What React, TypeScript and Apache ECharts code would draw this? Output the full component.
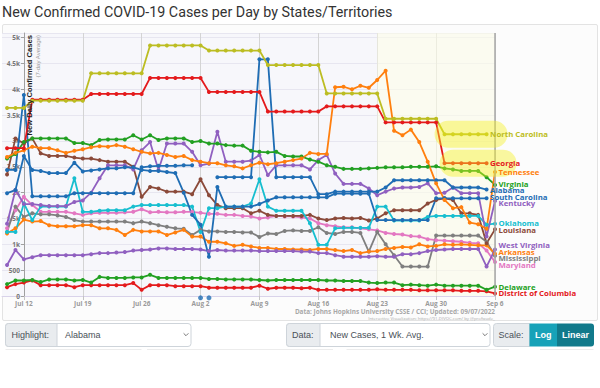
import React, { useEffect, useRef } from "react";
import * as echarts from "echarts";

// Days relative to Jul 12 (0 = Jul 12, 56 = Sep 6)
const DAY = [
  -2, -1, 0, 1, 2, 3, 4, 5, 6, 7, 8, 9, 10, 11, 12, 13, 14, 15, 16, 17, 18, 19, 20,
  21, 22, 23, 24, 25, 26, 27, 28, 29, 30, 31, 32, 33, 34, 35, 36, 37, 38, 39, 40,
  41, 42, 43, 44, 45, 46, 47, 48, 49, 50, 51, 52, 53, 54, 55, 56,
];
const X_TICK_DAYS = [0, 7, 14, 21, 28, 35, 42, 49, 56];
const X_TICK_LABELS = ["Jul 12", "Jul 19", "Jul 26", "Aug 2", "Aug 9", "Aug 16", "Aug 23", "Aug 30", "Sep 6"];
const REVIEW_START = 42; // Aug 23

const northCarolina = [
  3640, 3640, 3640,
  3780, 3780, 3780, 3780, 3780, 3780, 3780,
  4310, 4310, 4310, 4310, 4310, 4310, 4310,
  4850, 4850, 4850, 4850, 4850, 4850, 4850,
  4750, 4750, 4750, 4750, 4750, 4750, 4750,
  4470, 4470, 4470, 4470, 4470, 4470, 4470,
  3920, 3920, 3920, 3920, 3920, 3920, 3920,
  3430, 3430, 3430, 3430, 3430, 3430, 3430,
  3130, 3130, 3130, 3130, 3130, 3130, null,
];
const georgia = [
  2860, 2860, 2860,
  3800, 3800, 3800, 3800, 3800, 3800, 3800,
  3910, 3910, 3910, 3910, 3910, 3910, 3910,
  4220, 4220, 4220, 4220, 4220, 4220, 4220,
  3950, 3950, 3950, 3950, 3950, 3950, 3950,
  3570, 3570, 3570, 3570, 3570, 3570, 3570,
  3670, 3670, 3670, 3670, 3670, 3670, 3670,
  3360, 3360, 3360, 3360, 3360, 3360, 3360,
  2570, 2570, 2570, 2570, 2570, 2570, null,
];
const tennessee = [
  2690, 2770, 2820,
  2890, 2860, 2860, 2820, 2770, 2810, 2840,
  2880, 2900, 2890, 2920, 2890, 2840, 2790,
  2760, 2770, 2730, 2690, 2710, 2630, 2600,
  2570, 2570, 2530, 2510, 2470, 2530, 2580,
  2550, 2570, 2600, 2630, 2660, 2770, 2750,
  2750, 4040, 4050, 4000, 4070, 4030, 4180,
  4360, 3200, 3110, 3220, 2980, 2600, 2180,
  1860, 1700, 1720, 1420, 1390, 1300, 2400,
];
const virginia = [
  2660, 2750, 2980,
  3050, 3050, 3050, 3050, 3050, 2960, 2960,
  2920, 3020, 3030, 3030, 3030, 3110, 3030,
  3110, 3020, 3050, 3050, 3050, 2980, 3000,
  2950, 2950, 2920, 2910, 2910, 2810, 2790,
  2780, 2790, 2710, 2700, 2700, 2640, 2600,
  2530, 2500, 2460, 2460, 2460, 2470, 2480,
  2490, 2490, 2490, 2500, 2500, 2500, 2510,
  2470, 2450, 2420, 2420, 2420, 2300, 2150,
];
const alabama = [
  2440, 2440, 3890,
  1930, 1930, 1930, 1930, 1930, 1990, 1990,
  1990, 1990, 1990, 1990, 1990, 1990, 2490,
  2510, 2520, 2520, 2520, 2530, 2530, null,
  null, 2300, 2300, 2300, 2300, 2300, 4580,
  4580, 2300, 2300, 2300, 2300, 2300, 1970,
  1970, 2020, 2020, 2020, 2020, 2020, 2020,
  2100, 2240, 2240, 2240, 2240, 2240, 2240,
  2240, 2100, 2100, 2100, 2100, 2060, null,
];
const alabamaNegativeDays = [21, 22];
const alabamaNegativeValues = [-35, -35];
const southCarolina = [
  1990, 2050, 2710,
  2440, 2420, 2380, 2380, 2380, 2580, 2410,
  2430, 2450, 2470, 2470, 2490, 2490, 2440,
  2420, 2420, 2400, 2380, 2000, 1570, 1380,
  760, 2110, 1730, 1730, 1730, 1730, 1780,
  1850, 1910, 1910, 1910, 1910, 1910, 1910,
  1910, 1980, 1980, 1980, 1980, 1980, 1470,
  1470, 1470, 1470, 1470, 1470, 1470, 1890,
  1890, 1890, 1890, 1890, 1890, 1890, null,
];
const kentucky = [
  1400, 2050, 1780,
  1780, 1760, 1740, 1740, 1740, 1820, 1850,
  2000, 2280, 2530, 2530, 2530, 2450, 2820,
  2980, 2440, 2950, 2950, 2950, 2790, 2530,
  2560, 3180, 2600, 2600, 2600, 2620, 2730,
  2340, 2530, 2530, 2530, 2530, 2450, 2630,
  2730, 2370, 2170, 2170, 2170, 2080, 1950,
  2020, 2080, 2100, 2100, 2110, 2180, 1990,
  2000, 2100, 1990, 1990, 1990, 1150, 1840,
];
const oklahoma = [
  1240, 1240, 1790,
  1470, 1730, 1730, 1730, 1730, 2280, 1630,
  1630, 1650, 1660, 1660, 1660, 1730, 1760,
  1760, 1760, 1760, 1760, 1760, 1730, 1240,
  1700, 1700, 1730, 1730, 1730, 1790, 2260,
  1730, 1650, 1650, 1650, 1650, 1410, 990,
  990, 1310, 1320, 1320, 1320, 1320, 1730,
  1730, 1460, 1460, 1460, 1460, 1530, 1550,
  1550, 1550, 1550, 1550, 1550, 1380, 1400,
];
const louisiana = [
  2350, 3050, 2950,
  3050, 2760, 2710, 2710, 2710, 2680, 2660,
  2660, 2630, 2600, 2600, 2600, 2500, 1920,
  2110, 2080, 2020, 2020, 2020, 1970, 2260,
  1950, 1760, 1700, 1700, 1700, 1600, 1650,
  1570, 1550, 1550, 1550, 1550, 1570, 1500,
  1470, 1500, 1510, 1500, 1510, 1460, 1500,
  1600, 1660, 1660, 1660, 1660, 1790, 1860,
  1890, 1860, 1600, 1600, 1570, 1020, 1290,
];
const maryland = [
  1310, 1660, 1920,
  1760, 1630, 1630, 1630, 1630, 1600, 1570,
  1600, 1610, 1610, 1610, 1620, 1630, 1680,
  1620, 1630, 1620, 1620, 1630, 1630, 1610,
  1590, 1590, 1570, 1570, 1550, 1540, 1500,
  1520, 1550, 1540, 1540, 1520, 1500, 1410,
  1370, 1350, 1330, 1330, 1310, 1290, 1270,
  1220, 1200, 1190, 1160, 1150, 1100, 1080,
  1070, 1060, 1050, 1030, 1020, 880, 660,
];
const mississippi = [
  1240, 1730, 1530,
  1600, 1580, 1580, 1560, 1530, 1470, 1440,
  1440, 1440, 1440, 1440, 1440, 1410, 1440,
  1410, 1370, 1340, 1310, 1300, 1180, 1280,
  1250, 1250, 1240, 1240, 1230, 1230, 1140,
  1210, 1200, 1260, 1270, 1260, 1260, 1330,
  1220, 1200, 1240, 1240, 1220, 860, 1240,
  1000, 790, 570, 570, 570, 570, 1170,
  1170, 1170, 1170, 1170, 1170, 1050, 780,
];
const arkansas = [
  1210, 1310, 1480,
  1440, 1450, 1370, 1350, 1350, 1350, 1370,
  1370, 1310, 1310, 1280, 1180, 1280, 1250,
  1250, 1250, 1180, 1230, 1280, 1150, 1150,
  1050, 1050, 1020, 970, 990, 960, 930,
  930, 910, 910, 900, 900, 890, 910,
  910, 890, 870, 890, 830, 860, 870,
  910, 930, 950, 940, 1000, 960, 970,
  1000, 990, 1000, 990, 980, 980, 820,
];
const westVirginia = [
  600, 890, 710,
  750, 790, 790, 790, 790, 790, 790,
  810, 830, 830, 840, 850, 880, 890,
  900, 920, 920, 910, 910, 910, 900,
  870, 890, 880, 880, 880, 880, 870,
  870, 870, 870, 870, 860, 860, 830,
  830, 790, 760, 760, 760, 760, 770,
  760, 760, 810, 810, 830, 870, 890,
  900, 910, 910, 910, 910, 570, 900,
];
const delaware = [
  230, 300, 300,
  310, 270, 320, 320, 320, 300, 310,
  260, 370, 350, 350, 350, 360, 360,
  410, 350, 350, 350, 350, 350, 350,
  330, 330, 320, 320, 320, 320, 310,
  300, 310, 310, 310, 310, 310, 310,
  300, 300, 290, 290, 290, 260, 250,
  260, 260, 210, 220, 210, 200, 220,
  200, 200, 200, 200, 200, 120, 180,
];
const districtOfColumbia = [
  170, 230, 260,
  300, 210, 210, 210, 210, 170, 210,
  210, 210, 210, 210, 210, 250, 120,
  210, 210, 210, 190, 190, 190, 190,
  160, 160, 160, 160, 160, 160, 200,
  140, 160, 160, 160, 150, 160, 120,
  120, 120, 120, 120, 120, 120, 130,
  120, 120, 120, 120, 110, 110, 110,
  110, 110, 100, 100, 100, 90, 50,
];

const BLUE = "#1f6db4";
const ORANGE = "#ff7f0e";
const GREEN = "#22a022";
const RED = "#e41a1c";
const PURPLE = "#9060c0";
const BROWN = "#8b4a3a";
const PINK = "#e377c2";
const GRAY = "#7f7f7f";
const OLIVE = "#bcbd22";
const CYAN = "#17becf";

const STATES = [
  { name: "District of Columbia", color: RED, values: districtOfColumbia },
  { name: "Delaware", color: GREEN, values: delaware },
  { name: "Maryland", color: PINK, values: maryland },
  { name: "Mississippi", color: GRAY, values: mississippi },
  { name: "Arkansas", color: ORANGE, values: arkansas },
  { name: "West Virginia", color: PURPLE, values: westVirginia },
  { name: "Louisiana", color: BROWN, values: louisiana },
  { name: "Oklahoma", color: CYAN, values: oklahoma },
  { name: "Kentucky", color: PURPLE, values: kentucky },
  { name: "South Carolina", color: BLUE, values: southCarolina },
  { name: "Alabama", color: BLUE, values: alabama },
  { name: "Virginia", color: GREEN, values: virginia },
  { name: "Tennessee", color: ORANGE, values: tennessee },
  { name: "Georgia", color: RED, values: georgia },
  { name: "North Carolina", color: OLIVE, values: northCarolina },
];
const HIGHLIGHTED = ["North Carolina", "Georgia"];

const FONT = '"Open Sans", "Noto Sans", sans-serif';
const UI_FONT = '"Liberation Sans", "Noto Sans", sans-serif';

export default function App() {
  const ref = useRef<HTMLDivElement>(null);

  useEffect(() => {
    const el = ref.current;
    if (!el) return;
    const chart = echarts.init(el, undefined, { renderer: "svg", width: 600, height: 388 });

    const gridLeft = 2;
    const yAxisX = 24;
    const series: any[] = STATES.map((s) => ({
      name: s.name,
      type: "line",
      z: 3,
      silent: true,
      data: DAY.map((d, i) => [d, s.values[i] == null ? "-" : s.values[i]]),
      symbol: "circle",
      symbolSize: 4,
      showSymbol: true,
      connectNulls: false,
      clip: true,
      lineStyle: { width: 1.8, color: s.color },
      itemStyle: { color: s.color },
    }));
    series.push({
      name: "Alabama gap",
      type: "scatter",
      z: 3,
      silent: true,
      clip: false,
      symbolSize: 5,
      itemStyle: { color: BLUE },
      data: alabamaNegativeDays.map((d, i) => [d, alabamaNegativeValues[i]]),
    });
    series.push({
      type: "line",
      z: 1,
      silent: true,
      data: [],
      markArea: {
        silent: true,
        itemStyle: { color: "rgba(255,255,232,0.55)" },
        data: [[{ xAxis: REVIEW_START }, { xAxis: 56 }]],
      },
      markLine: {
        silent: true,
        symbol: "none",
        label: { show: false },
        lineStyle: { color: "#a9a9a9", width: 1.5, type: "solid" },
        data: [{ xAxis: 56 }],
      },
    });

    const option: any = {
      animation: false,
      backgroundColor: "transparent",
      grid: {
        left: gridLeft,
        right: 105,
        top: 33,
        bottom: 92,
        show: true,
        backgroundColor: "#f7f7fb",
        borderWidth: 0,
        containLabel: false,
        outerBoundsMode: "none",
      },
      xAxis: {
        type: "value",
        min: -2.6,
        max: 56,
        axisLine: { show: true, onZero: false, lineStyle: { color: "#d9d3ea", width: 1 } },
        axisTick: { show: true, length: 4, customValues: X_TICK_DAYS, lineStyle: { color: "#c4c4c4" } },
        axisLabel: {
          fontSize: 6.5,
          fontWeight: "bold",
          color: "#9a9a9a",
          fontFamily: FONT,
          margin: 3.5,
          customValues: X_TICK_DAYS,
          formatter: (v: number) => X_TICK_LABELS[X_TICK_DAYS.indexOf(Math.round(v))] ?? "",
        },
        splitLine: { show: true, lineStyle: { color: "#d4d4d4", width: 1 } },
      },
      yAxis: {
        type: "value",
        min: 0,
        max: 5090,
        interval: 500,
        offset: -(yAxisX - gridLeft),
        axisLine: { show: true, lineStyle: { color: "#a0a0a0", width: 1 } },
        axisTick: { show: true, length: 3, lineStyle: { color: "#a0a0a0" } },
        axisLabel: {
          fontSize: 6.5,
          fontWeight: "bold",
          color: "#777",
          fontFamily: FONT,
          margin: 4,
          showMaxLabel: false,
          formatter: (v: number) => (v % 500 !== 0 ? "" : v >= 1000 ? `${v / 1000}k` : `${v}`),
        },
        splitLine: { show: true, lineStyle: { color: "#e7e6f0", width: 1 } },
      },
      series,
    };
    chart.setOption(option);

    // End labels, placed from each series' last value, spread apart to avoid overlaps
    const items = STATES.map((s) => {
      let li = s.values.length - 1;
      while (li >= 0 && s.values[li] == null) li--;
      const p = chart.convertToPixel({ gridIndex: 0 }, [DAY[li], s.values[li] as number]) as number[];
      return { s, x: p[0], y: p[1], ly: p[1] };
    }).sort((a, b) => a.y - b.y);
    const GAP = 6.5;
    for (let it = 0; it < 300; it++) {
      let moved = false;
      for (let i = 1; i < items.length; i++) {
        const diff = items[i].ly - items[i - 1].ly;
        if (diff < GAP - 0.01) {
          const sh = (GAP - diff) / 2;
          items[i].ly += sh;
          items[i - 1].ly -= sh;
          moved = true;
        }
      }
      if (!moved) break;
    }

    const txt = (x: number, y: number, text: string, o: any = {}) => ({
      type: "text",
      x,
      y,
      z: 100,
      silent: true,
      rotation: o.rotation ?? 0,
      style: {
        text,
        fill: o.fill ?? "#495057",
        fontSize: o.fontSize ?? 9,
        fontWeight: o.fontWeight ?? "normal",
        fontFamily: o.fontFamily ?? UI_FONT,
        textAlign: o.align ?? "left",
        align: o.align ?? "left",
        textVerticalAlign: "middle",
        verticalAlign: "middle",
        lineHeight: o.lineHeight,
      },
    });
    const rect = (x: number, y: number, w: number, h: number, fill: string, stroke: string | null, r: any = 0) => ({
      type: "rect",
      z: 90,
      silent: true,
      shape: { x, y, width: w, height: h, r },
      style: { fill, stroke: stroke ?? "none", lineWidth: 1 },
    });
    const chevron = (cx: number, cy: number) => ({
      type: "polyline",
      z: 100,
      silent: true,
      shape: { points: [[cx - 2.4, cy - 1.2], [cx, cy + 1.2], [cx + 2.4, cy - 1.2]] },
      style: { stroke: "#555", lineWidth: 0.8, fill: "none" },
    });

    const graphic: any[] = [];
    graphic.push(txt(2, 12, "New Confirmed COVID-19 Cases per Day by States/Territories", {
      fontSize: 14.3, fill: "#333", fontFamily: 'Roboto, "Noto Sans", sans-serif',
    }));
    graphic.push(txt(29.5, 35, "New Daily Confirmed Cases", {
      rotation: Math.PI / 2, align: "right", fontSize: 7.6, fontWeight: "bold", fill: "#222", fontFamily: UI_FONT,
    }));
    graphic.push(txt(37.6, 35, "(7-day Average)", {
      rotation: Math.PI / 2, align: "right", fontSize: 6, fill: "#999", fontFamily: UI_FONT,
    }));

    items.forEach((it) => {
      if (it.s.name === HIGHLIGHTED[0]) {
        graphic.push({ type: "rect", z: 95, silent: true, shape: { x: it.x - 52, y: it.ly - 13.5, width: 73, height: 27, r: 13.5 }, style: { fill: "rgba(245,240,30,0.42)" } });
      }
      if (it.s.name === HIGHLIGHTED[1]) {
        graphic.push({ type: "rect", z: 95, silent: true, shape: { x: it.x - 47, y: it.ly - 13.5, width: 77, height: 27, r: 13.5 }, style: { fill: "rgba(245,240,30,0.42)" } });
      }
    });
    items.forEach((it) => {
      graphic.push(txt(it.x + 3.5, it.ly, it.s.name, {
        fill: it.s.color, fontSize: 7.8, fontWeight: "bold", fontFamily: FONT, lineHeight: 7,
      }));
    });
    graphic.push(txt(495, 311, "Data: Johns Hopkins University CSSE / CCI; Updated: 09/07/2022", {
      align: "right", fontSize: 6.4, fontWeight: "bold", fill: "#a8a8a8", fontFamily: FONT,
    }));
    graphic.push(txt(495, 317.5, "Interactive Visualization: https://91-DIVOC.com/ by @profwade_", {
      align: "right", fontSize: 4.3, fill: "#aaa", fontFamily: FONT,
    }));

    graphic.push(rect(5.5, 323.5, 185.5, 23, "#fff", "#ced4da", 3));
    graphic.push(rect(5.5, 323.5, 51.5, 23, "#e9ecef", "#ced4da", [3, 0, 0, 3]));
    graphic.push(txt(11.5, 335, "Highlight:"));
    graphic.push(txt(65, 335, "Alabama"));
    graphic.push(chevron(186, 334.5));

    graphic.push(rect(286.5, 323.5, 203.5, 23, "#fff", "#ced4da", 3));
    graphic.push(rect(286.5, 323.5, 33.5, 23, "#e9ecef", "#ced4da", [3, 0, 0, 3]));
    graphic.push(txt(292, 335, "Data:"));
    graphic.push(txt(330, 335, "New Cases, 1 Wk. Avg."));
    graphic.push(chevron(485, 334.5));

    graphic.push(rect(493.5, 323.5, 36, 23, "#e9ecef", "#ced4da", [3, 0, 0, 3]));
    graphic.push(txt(498.5, 335, "Scale:"));
    graphic.push(rect(529.5, 323.5, 27.5, 23, "#17a2b8", null, 0));
    graphic.push(rect(557, 323.5, 37, 23, "#117a8b", null, [0, 3, 3, 0]));
    graphic.push(txt(543.2, 335, "Log", { align: "center", fill: "#fff", fontWeight: "bold" }));
    graphic.push(txt(575.5, 335, "Linear", { align: "center", fill: "#fff", fontWeight: "bold" }));

    [[5.5, 141.5], [147, 333], [346.5, 509], [540, 593.5]].forEach(([a, b]) => {
      graphic.push({ type: "line", z: 90, silent: true, shape: { x1: a, y1: 349.5, x2: b, y2: 349.5 }, style: { stroke: "#ececec", lineWidth: 1 } });
    });

    chart.setOption({ graphic });

    return () => chart.dispose();
  }, []);

  return (
    <div style={{ position: "relative", width: 600, height: 388, background: "#fff", overflow: "hidden" }}>
      <style>{"body{margin:0;}"}</style>
      <div
        style={{
          position: "absolute",
          left: 2,
          top: 24,
          width: 596,
          height: 297,
          border: "1px solid #e3e3e3",
          background: "#fcfcfc",
          boxSizing: "border-box",
          borderRadius: 2,
        }}
      />
      <div ref={ref} style={{ position: "absolute", left: 0, top: 0, width: 600, height: 388 }} />
    </div>
  );
}
